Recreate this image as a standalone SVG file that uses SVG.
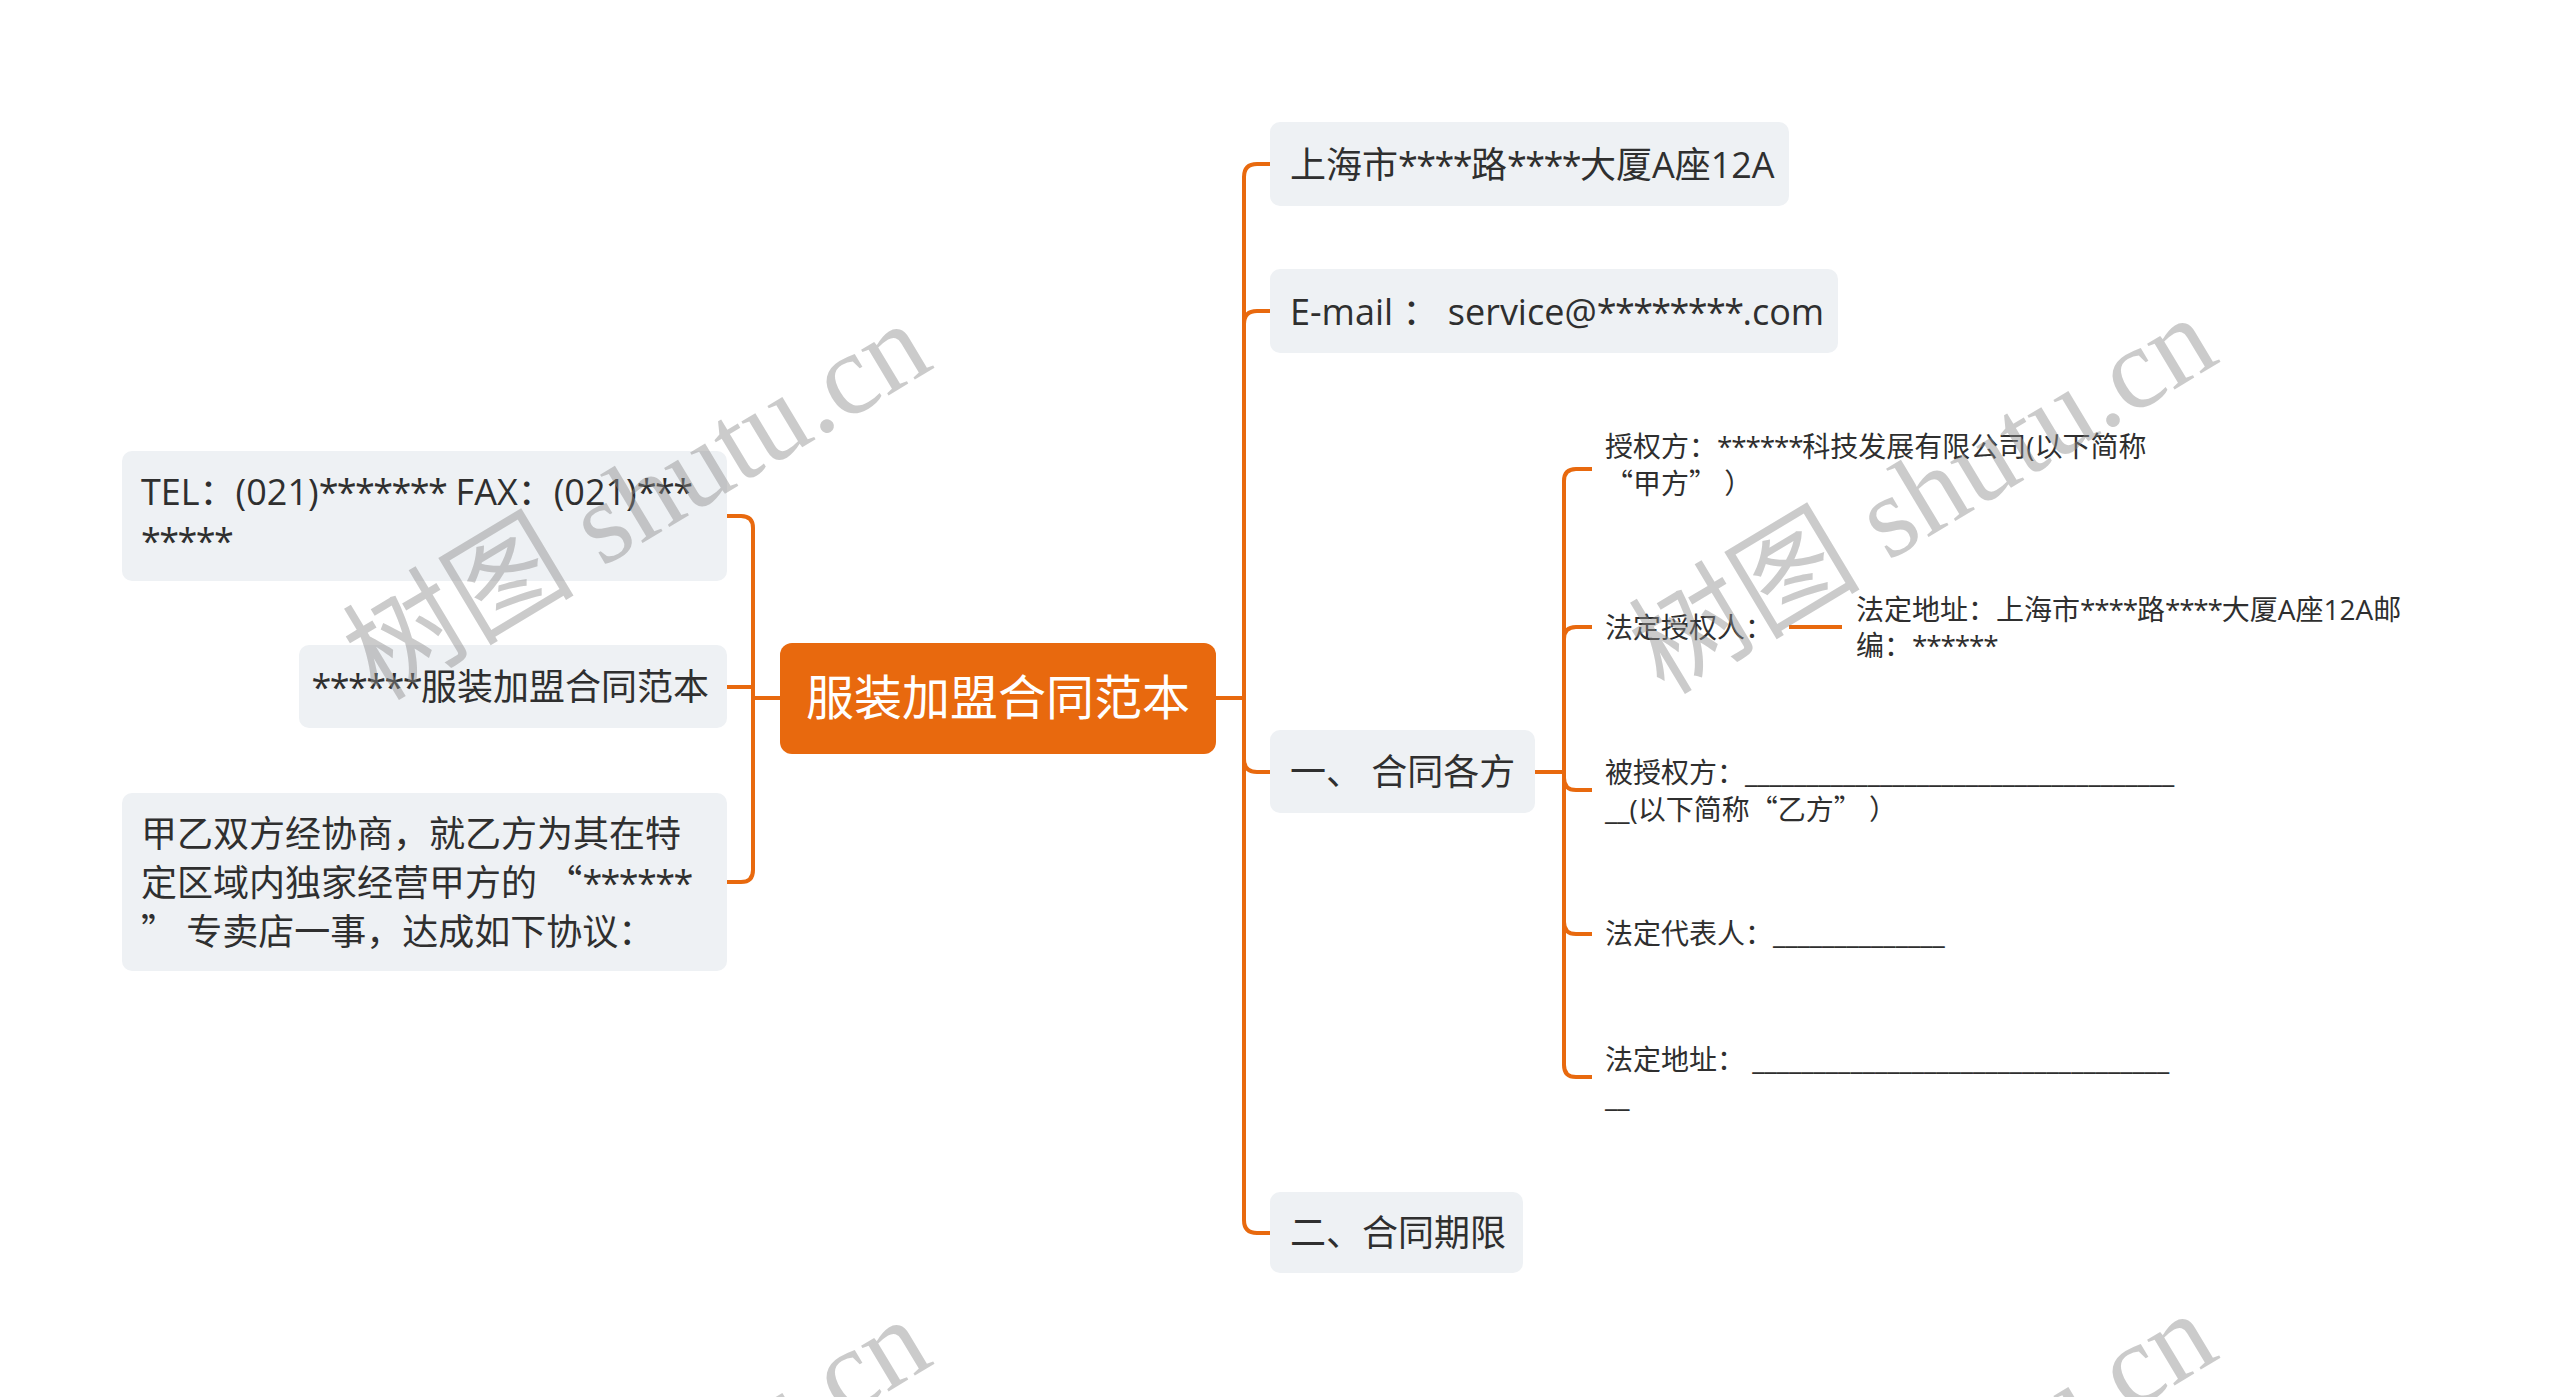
<svg xmlns="http://www.w3.org/2000/svg" width="2560" height="1397" viewBox="0 0 2560 1397">
<style>
text{font-family:"Open Sans","Noto Sans CJK SC",sans-serif;fill:#2f2f2f}
.q{font-family:"Noto Sans CJK SC",sans-serif}
.t1{font-size:36px}
.t2{font-size:28px}
.t1 .s{letter-spacing:-1.6px}
.t2 .s{letter-spacing:-1.2px}
.box{fill:#EEF1F4}
.conn{stroke:#E8690E;stroke-width:4;fill:none;stroke-linecap:butt}
.wm{font-family:"Liberation Serif","Noto Sans CJK SC",serif;font-size:116px;fill:#8c8c8c;fill-opacity:0.45}
</style>
<rect width="2560" height="1397" fill="#ffffff"/>
<g id="connectors">
<path class="conn" d="M780,698 H753"/>
<path class="conn" d="M753,698 V528 Q753,516 741,516 H727"/>
<path class="conn" d="M753,698 V687 H727"/>
<path class="conn" d="M753,698 V870 Q753,882 741,882 H727"/>
<path class="conn" d="M1216,698 H1244"/>
<path class="conn" d="M1244,698 V177 Q1244,164 1257,164 H1270"/>
<path class="conn" d="M1244,698 V324 Q1244,311 1257,311 H1270"/>
<path class="conn" d="M1244,698 V759 Q1244,772 1257,772 H1270"/>
<path class="conn" d="M1244,698 V1220 Q1244,1233 1257,1233 H1270"/>
<path class="conn" d="M1535,772 H1564"/>
<path class="conn" d="M1564,772 V481 Q1564,469 1576,469 H1592"/>
<path class="conn" d="M1564,772 V639 Q1564,627 1576,627 H1592"/>
<path class="conn" d="M1564,772 V778 Q1564,790 1576,790 H1592"/>
<path class="conn" d="M1564,772 V922 Q1564,934 1576,934 H1592"/>
<path class="conn" d="M1564,772 V1065 Q1564,1077 1576,1077 H1592"/>
<path class="conn" d="M1789,627 H1842"/>
</g>
<g id="root">
<rect x="780" y="643" width="436" height="111" rx="12" fill="#E8690E"/>
<text x="998" y="715" text-anchor="middle" style="font-size:48px;fill:#ffffff">服装加盟合同范本</text>
</g>
<g id="tel">
<rect class="box" x="122" y="451" width="605" height="130" rx="10"/>
<text class="t1" x="141" y="505">TEL：(021)<tspan class="s">*******</tspan> FAX：(021)<tspan class="s">***</tspan></text>
<text class="t1" x="141" y="554"><tspan class="s">*****</tspan></text>
</g>
<g id="title2">
<rect class="box" x="299" y="645" width="428" height="83" rx="10"/>
<text class="t1" x="709" y="700" text-anchor="end"><tspan class="s">******</tspan>服装加盟合同范本</text>
</g>
<g id="intro">
<rect class="box" x="122" y="793" width="605" height="178" rx="10"/>
<text class="t1" x="141" y="847">甲乙双方经协商，就乙方为其在特</text>
<text class="t1" x="141" y="896">定区域内独家经营甲方的 <tspan class="q">“</tspan><tspan class="s">******</tspan></text>
<text class="t1" x="141" y="945"><tspan class="q">”</tspan> 专卖店一事，达成如下协议：</text>
</g>
<g id="address">
<rect class="box" x="1270" y="122" width="519" height="84" rx="10"/>
<text class="t1" x="1290" y="178">上海市<tspan class="s">****</tspan>路<tspan class="s">****</tspan>大厦A座12A</text>
</g>
<g id="email">
<rect class="box" x="1270" y="269" width="568" height="84" rx="10"/>
<text class="t1" x="1290" y="325">E-mail ： service@<tspan class="s">********</tspan>.com</text>
</g>
<g id="parties">
<rect class="box" x="1270" y="730" width="265" height="83" rx="10"/>
<text class="t1" x="1290" y="785">一、 合同各方</text>
</g>
<g id="term">
<rect class="box" x="1270" y="1192" width="253" height="81" rx="10"/>
<text class="t1" x="1290" y="1246">二、合同期限</text>
</g>
<g id="licensor">
<text class="t2" x="1605" y="457">授权方：<tspan class="s">******</tspan>科技发展有限公司(以下简称</text>
<text class="t2" x="1605" y="494"><tspan class="q">“</tspan>甲方<tspan class="q">”</tspan> ）</text>
</g>
<g id="legal-licensor">
<text class="t2" x="1605" y="638">法定授权人：</text>
</g>
<g id="legal-address-1">
<text class="t2" x="1856" y="620">法定地址：上海市<tspan class="s">****</tspan>路<tspan class="s">****</tspan>大厦A座12A邮</text>
<text class="t2" x="1856" y="656">编：<tspan class="s">******</tspan></text>
</g>
<g id="licensee">
<text class="t2" x="1605" y="783">被授权方：___________________________________</text>
<text class="t2" x="1605" y="820">__(以下简称<tspan class="q">“</tspan>乙方<tspan class="q">”</tspan> ）</text>
</g>
<g id="legal-rep">
<text class="t2" x="1605" y="944">法定代表人：______________</text>
</g>
<g id="legal-address-2">
<text class="t2" x="1605" y="1070">法定地址： __________________________________</text>
<text class="t2" x="1605" y="1107">__</text>
</g>
<g id="watermarks">
<text class="wm" transform="translate(378,702) rotate(-31)">树图 shutu.cn</text>
<text class="wm" transform="translate(1664,696) rotate(-31)">树图 shutu.cn</text>
<text class="wm" transform="translate(378,1698) rotate(-31)">树图 shutu.cn</text>
<text class="wm" transform="translate(1664,1692) rotate(-31)">树图 shutu.cn</text>
</g>
</svg>
